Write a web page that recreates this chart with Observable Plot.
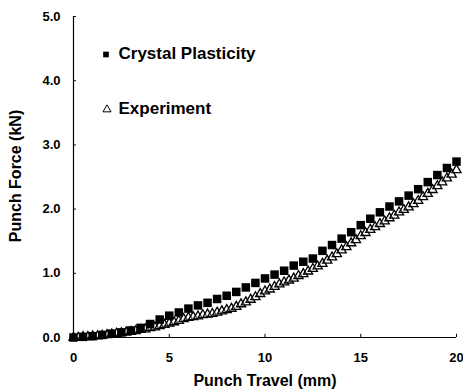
<!DOCTYPE html>
<html>
<head>
<meta charset="utf-8">
<script src="https://cdn.jsdelivr.net/npm/d3@7"></script>
<script src="https://cdn.jsdelivr.net/npm/@observablehq/plot@0.6"></script>
<style>
  html, body { margin: 0; padding: 0; background: #fff; }
  svg { font-family: "Liberation Sans", Arial, sans-serif; font-weight: bold; }
</style>
</head>
<body>
<div id="chart"></div>
<script>
// Crystal Plasticity (filled squares)
const cpTravel = [0,0.5,1,1.5,2,2.5,3,3.5,4,4.5,5,5.5,6,6.5,7,7.5,8,8.5,9,9.5,10,10.5,11,11.5,12,12.5,13,13.5,14,14.5,15,15.5,16,16.5,17,17.5,18,18.5,19,19.5,20];
const cpForce  = [0.00,0.01,0.02,0.04,0.06,0.08,0.11,0.15,0.21,0.28,0.34,0.39,0.45,0.50,0.54,0.60,0.65,0.71,0.78,0.85,0.92,0.98,1.04,1.12,1.18,1.23,1.35,1.44,1.54,1.64,1.75,1.85,1.95,2.04,2.12,2.21,2.31,2.42,2.53,2.64,2.74];

// Experiment (open triangles)
const expTravel = [0,0.25,0.5,0.75,1,1.25,1.5,1.75,2,2.25,2.5,2.75,3,3.25,3.5,3.75,4,4.25,4.5,4.75,5,5.25,5.5,5.75,6,6.25,6.5,6.75,7,7.25,7.5,7.75,8,8.25,8.5,8.75,9,9.25,9.5,9.75,10,10.25,10.5,10.75,11,11.25,11.5,11.75,12,12.25,12.5,12.75,13,13.25,13.5,13.75,14,14.25,14.5,14.75,15,15.25,15.5,15.75,16,16.25,16.5,16.75,17,17.25,17.5,17.75,18,18.25,18.5,18.75,19,19.25,19.5,19.75,20];
const expForce  = [0.00,0.00,0.01,0.01,0.02,0.02,0.03,0.04,0.05,0.06,0.07,0.08,0.09,0.10,0.12,0.13,0.15,0.16,0.18,0.20,0.22,0.24,0.26,0.29,0.31,0.32,0.33,0.35,0.36,0.37,0.39,0.41,0.43,0.45,0.48,0.52,0.55,0.59,0.63,0.68,0.72,0.75,0.79,0.83,0.86,0.89,0.92,0.96,0.99,1.03,1.07,1.11,1.15,1.20,1.25,1.30,1.36,1.41,1.47,1.52,1.58,1.63,1.68,1.72,1.77,1.81,1.86,1.90,1.95,1.99,2.03,2.08,2.13,2.19,2.24,2.30,2.36,2.42,2.48,2.54,2.61];

const xTicks = [0, 5, 10, 15, 20];
const yTicks = [0, 1, 2, 3, 4, 5];
const xLabel = "Punch Travel (mm)";
const yLabel = "Punch Force (kN)";
const seriesNames = ["Crystal Plasticity", "Experiment"];

const cp = cpTravel.map((x, i) => ({x, y: cpForce[i]}));
const exp = expTravel.map((x, i) => ({x, y: expForce[i]}));

const chart = Plot.plot({
  width: 463,
  height: 392,
  marginLeft: 73,
  marginRight: 7,
  marginTop: 16,
  marginBottom: 55,
  x: {domain: [0, 20]},
  y: {domain: [0, 5]},
  marks: [
    Plot.axisY(yTicks, {tickSize: 0, tickPadding: 13, tickFormat: d3.format(".1f"), fontSize: 13, label: null}),
    Plot.axisX(xTicks, {tickSize: 0, tickPadding: 15, tickFormat: d => String(d), fontSize: 13, label: null}),
    Plot.ruleY(yTicks, {x1: 0, x2: 0.15, stroke: "black"}),
    Plot.ruleX(xTicks, {y1: 0, y2: 0.05, stroke: "black"}),
    Plot.ruleX([0], {stroke: "black", strokeWidth: 1.2}),
    Plot.ruleY([0], {stroke: "black", strokeWidth: 1.2}),
    Plot.dot(exp, {x: "x", y: "y", symbol: "triangle", r: 3.4, stroke: "black", strokeWidth: 1.3, fill: "white", fillOpacity: 0.3}),
    Plot.dot(cp, {x: "x", y: "y", symbol: "square", r: 4.8, fill: "black", stroke: "none"}),
    // axis titles
    Plot.text([yLabel], {frameAnchor: "left", textAnchor: "middle", lineAnchor: "middle", rotate: -90, dx: -58, dy: -1, fontSize: 16, fontWeight: "bold"}),
    Plot.text([xLabel], {frameAnchor: "bottom", textAnchor: "middle", lineAnchor: "middle", dy: 43, fontSize: 16, fontWeight: "bold"}),
    // legend
    Plot.dot([seriesNames[0]], {frameAnchor: "top-left", dx: 32.5, dy: 38, symbol: "square", r: 3.2, fill: "black"}),
    Plot.text([seriesNames[0]], {frameAnchor: "top-left", dx: 45, dy: 37, textAnchor: "start", lineAnchor: "middle", fontSize: 17, fontWeight: "bold"}),
    Plot.dot([seriesNames[1]], {frameAnchor: "top-left", dx: 33.5, dy: 93, symbol: "triangle", r: 3, stroke: "black", strokeWidth: 1, fill: "none"}),
    Plot.text([seriesNames[1]], {frameAnchor: "top-left", dx: 45, dy: 92, textAnchor: "start", lineAnchor: "middle", fontSize: 17, fontWeight: "bold"})
  ]
});
document.getElementById("chart").appendChild(chart);
</script>
</body>
</html>
